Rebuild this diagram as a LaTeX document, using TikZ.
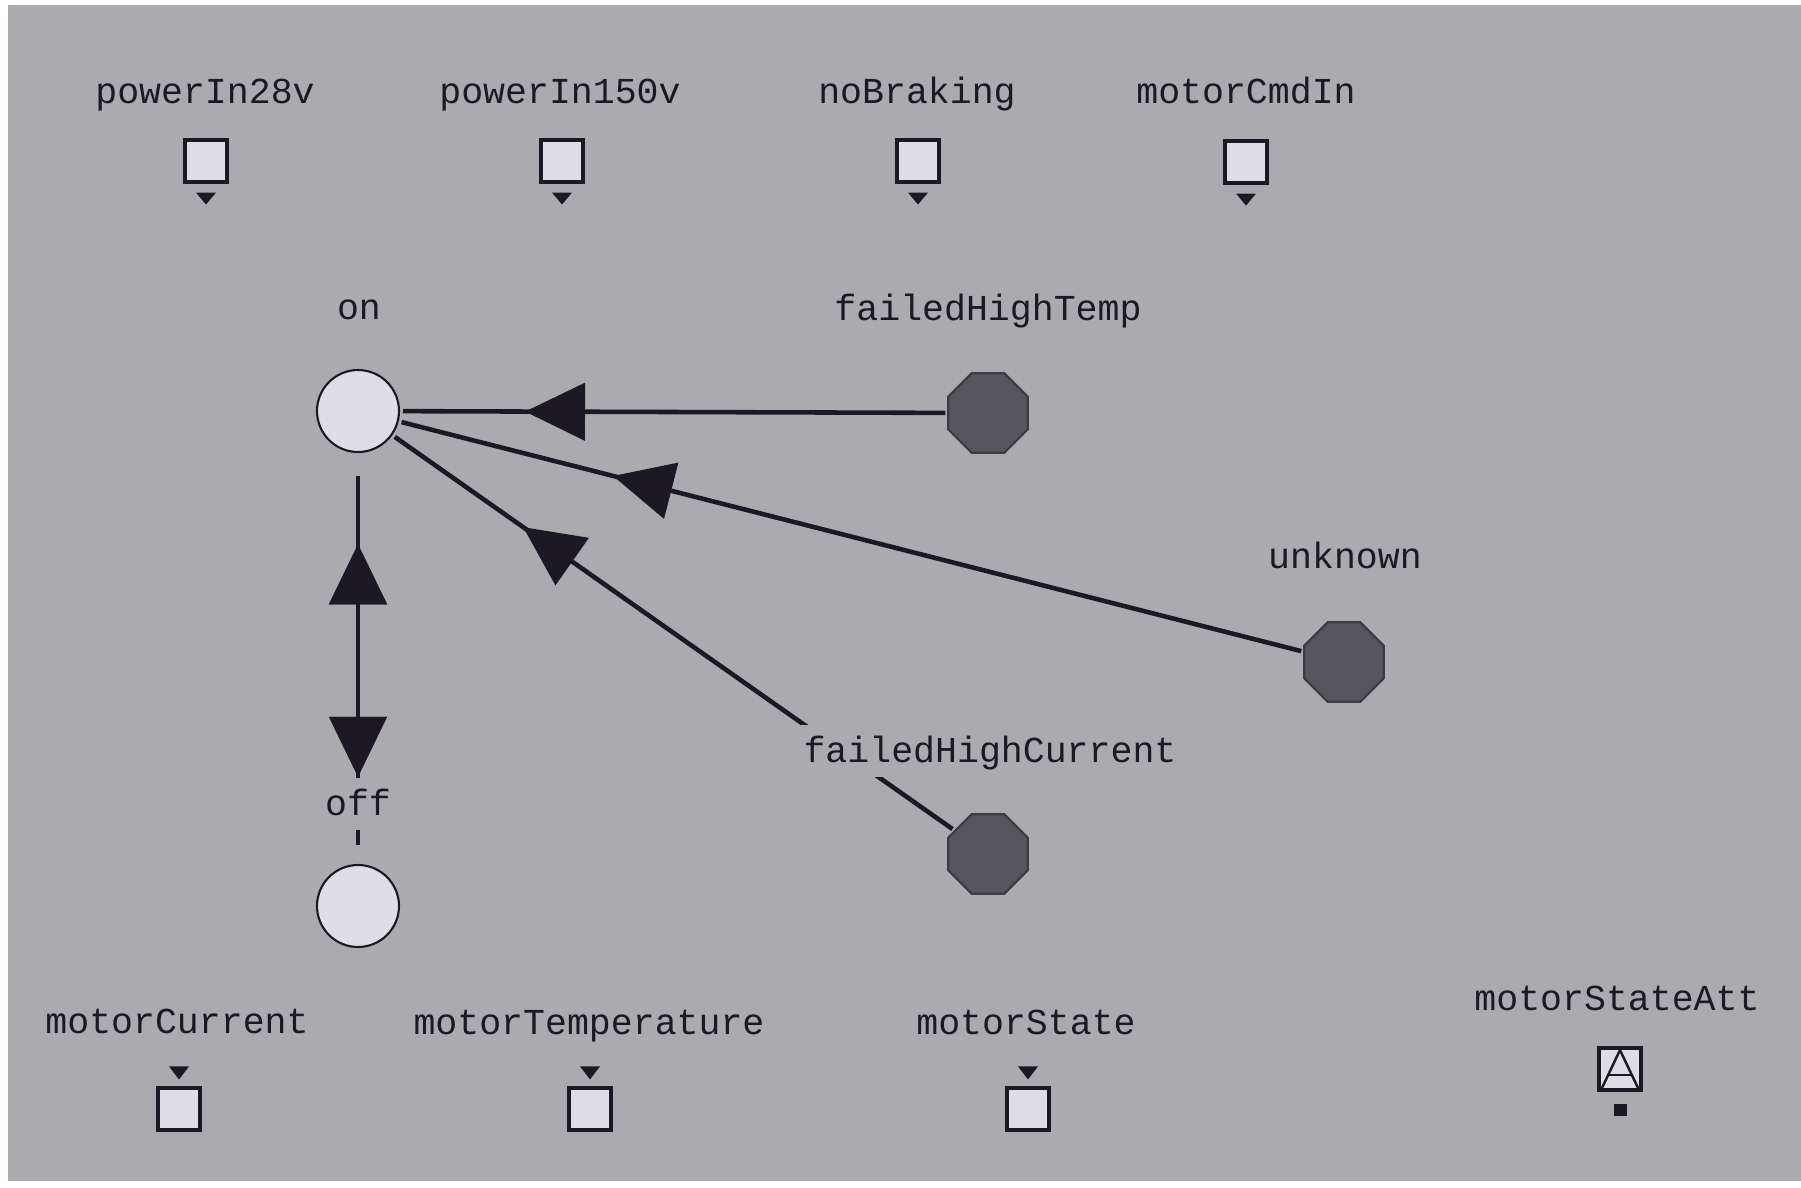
\documentclass[tikz,border=0pt]{standalone}
\usepackage{fontspec}
\setmonofont{Liberation Mono}
\usetikzlibrary{arrows.meta,calc,shapes.geometric,decorations.markings}
\definecolor{panel}{RGB}{171,171,175}
\definecolor{ink}{RGB}{28,24,36}
\definecolor{pale}{RGB}{222,222,228}
\definecolor{failfill}{RGB}{86,86,92}
\tikzset{port/.style = {draw=ink, fill=pale, line width=0.9pt, minimum size=4.2mm, inner sep=0pt}}
\tikzset{state/.style = {circle, draw=ink, fill=pale, line width=0.6pt, minimum size=8.2mm, inner sep=0pt, outer sep=0.4mm}}
\tikzset{failed/.style = {regular polygon, regular polygon sides=8, draw=ink!85, fill=failfill, line width=0.6pt, minimum size=8.6mm, inner sep=0pt, outer sep=0.3mm}}
\tikzset{lbl/.style = {font=\ttfamily\fontsize{10.4}{12}\selectfont, text=ink, fill=panel, inner xsep=0.4mm, inner ysep=0pt, text height=3.7mm, text depth=1.5mm, anchor=base}}
\tikzset{trans/.style = {draw=ink, line width=1.3pt}}
\tikzset{tipat/.style = {decoration={markings, mark=at position #1 with {\arrow{Triangle[length=6mm,width=5.7mm]}}}, postaction={decorate}}}
\tikzset{tipback/.style = {decoration={markings, mark=at position #1 with {\arrowreversed{Triangle[length=6mm,width=5.7mm]}}}, postaction={decorate}}}

\begin{document}
\begin{tikzpicture}[x=0.1mm,y=-0.1mm]
  \useasboundingbox (0,0) rectangle (1801,1187);
  \fill[white] (0,0) rectangle (1801,1187);
  \fill[panel] (8,5) rectangle (1801,1181);

  % input ports
  \node[port] (p28) at (206,161) {};
  \node[port] (p150) at (562,161) {};
  \node[port] (nobrk) at (918,161) {};
  \node[port] (cmdin) at (1246,162) {};
  \foreach \p in {p28,p150,nobrk,cmdin}
    \fill[ink] ($(\p.south)+(-10,9)$) -- ++(20,0) -- ++(-10,12) -- cycle;

  % output ports
  \node[port] (cur) at (179,1109) {};
  \node[port] (temp) at (590,1109) {};
  \node[port] (mstate) at (1028,1109) {};
  \foreach \p in {cur,temp,mstate}
    \fill[ink] ($(\p.north)+(-10,-20)$) -- ++(20,0) -- ++(-10,13) -- cycle;

  % attribute
  \node[port] (att) at (1620,1069) {};
  \draw[ink, line width=0.7pt] ($(att.center)+(-18,19)$) -- ($(att.center)+(0,-19)$) -- ($(att.center)+(18,19)$);
  \draw[ink, line width=0.7pt] ($(att.center)+(-12,6)$) -- ($(att.center)+(12,6)$);
  \fill[ink] ($(att.south)+(-6,12)$) rectangle ++(13,12);

  % states
  \node[state] (on) at (358,411) {};
  \node[state] (off) at (358,906) {};
  \node[failed] (fht) at (988,413) {};
  \node[failed] (unk) at (1344,662) {};
  \node[failed] (fhc) at (988,854) {};

  % transitions
  \draw[trans, tipback=0.185, tipat=0.815] ([yshift=-2mm]on.south) -- ([yshift=1.6mm]off.north);
  \draw[trans, tipat=0.775] (fht) -- (on);
  \draw[trans, tipat=0.765] (unk) -- (on);
  \draw[trans, tipat=0.77] (fhc) -- (on);

  % labels
  \node[lbl] (l28) at (205,103) {powerIn28v};
  \node[lbl] (l150) at (560,103) {powerIn150v};
  \node[lbl] (lbrk) at (917,103) {noBraking};
  \node[lbl] (lcmd) at (1246,103) {motorCmdIn};
  \node[lbl] (lon) at (359,319) {on};
  \node[lbl] (lfht) at (988,320) {failedHighTemp};
  \node[lbl] (lunk) at (1345,568) {unknown};
  \node[lbl] (lfhc) at (990,762) {failedHighCurrent};
  \node[lbl] (loff) at (358,815) {off};
  \node[lbl] (lcur) at (177,1033) {motorCurrent};
  \node[lbl] (ltemp) at (589,1034) {motorTemperature};
  \node[lbl] (lstate) at (1026,1034) {motorState};
  \node[lbl] (latt) at (1617,1010) {motorStateAtt};
\end{tikzpicture}
\end{document}
